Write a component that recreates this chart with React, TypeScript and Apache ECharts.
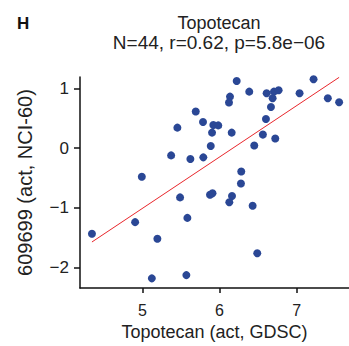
import React, { useEffect, useRef } from "react";
import * as echarts from "echarts";

const xValues = [
  5.692, 5.786, 5.453, 5.92, 5.984, 5.903, 5.886, 5.372, 5.622, 5.79, 4.992,
  6.223, 6.136, 6.123, 6.386, 6.611, 6.706, 6.767, 6.689, 6.667, 7.039, 7.22,
  7.405, 7.552, 6.158, 6.602, 6.563, 6.723, 6.451, 6.282, 5.488, 5.877, 5.909,
  4.905, 5.583, 4.345, 5.194, 5.122, 5.57, 6.278, 6.162, 6.127, 6.43, 6.49,
];
const yValues = [
  0.614, 0.438, 0.343, 0.388, 0.381, 0.26, 0.036, -0.121, -0.182, -0.154, -0.478,
  1.123, 0.862, 0.763, 0.945, 0.919, 0.945, 0.968, 0.836, 0.687, 0.919, 1.151,
  0.836, 0.769, 0.26, 0.488, 0.227, 0.161, 0.045, -0.39, -0.823, -0.779, -0.755,
  -1.237, -1.166, -1.431, -1.514, -2.177, -2.123, -0.59, -0.801, -0.905, -0.962, -1.758,
];
const fitX = [4.345, 7.552];
const fitY = [-1.569, 1.184];
const xTicks = [5, 6, 7];
const yTicks = [-2, -1, 0, 1];

const FONT = "Liberation Sans";
const TXT = "#222222";

export default function App() {
  const ref = useRef<HTMLDivElement>(null);
  useEffect(() => {
    if (!ref.current) return;
    const chart = echarts.init(ref.current, null, { renderer: "svg" });
    chart.setOption({
      animation: false,
      backgroundColor: "#ffffff",
      textStyle: { fontFamily: FONT },
      title: [
        {
          text: "H",
          left: 12,
          top: 10,
          textStyle: { fontFamily: FONT, fontSize: 17, fontWeight: "bold", color: "#111" },
        },
        {
          text: "Topotecan",
          subtext: "N=44, r=0.62, p=5.8e\u221206",
          left: 214,
          top: 9,
          textAlign: "center",
          itemGap: 1,
          textStyle: { fontFamily: FONT, fontSize: 18, fontWeight: "normal", color: TXT },
          subtextStyle: { fontFamily: FONT, fontSize: 19, color: TXT },
        },
      ],
      grid: { left: 80, top: 77, right: 0, bottom: 57, containLabel: false },
      xAxis: {
        type: "value",
        min: 4.19,
        max: 7.68,
        name: "Topotecan (act, GDSC)",
        nameLocation: "middle",
        nameGap: 34,
        nameTextStyle: { fontFamily: FONT, fontSize: 18, color: TXT },
        splitLine: { show: false },
        axisLine: { show: true, onZero: false, lineStyle: { color: "#111", width: 1.5 } },
        axisTick: { show: true, length: 5, customValues: xTicks, lineStyle: { color: "#111", width: 1.5 } },
        axisLabel: { customValues: xTicks, fontFamily: FONT, fontSize: 16, color: TXT, margin: 14 },
      },
      yAxis: {
        type: "value",
        min: -2.34,
        max: 1.19,
        name: "609699 (act, NCI-60)",
        nameLocation: "middle",
        nameGap: 45,
        nameTextStyle: { fontFamily: FONT, fontSize: 20, color: TXT },
        splitLine: { show: false },
        axisLine: { show: true, onZero: false, lineStyle: { color: "#111", width: 1.5 } },
        axisTick: { show: true, length: 6, customValues: yTicks, lineStyle: { color: "#111", width: 1.5 } },
        axisLabel: {
          customValues: yTicks,
          fontFamily: FONT,
          fontSize: 17,
          color: TXT,
          margin: 11,
          formatter: (v: number) => (v < 0 ? "\u2212" + Math.abs(v) : String(v)),
        },
      },
      series: [
        {
          type: "scatter",
          data: xValues.map((x, i) => [x, yValues[i]]),
          symbolSize: 8,
          itemStyle: { color: "#2A4795", opacity: 1 },
          z: 2,
        },
        {
          type: "line",
          data: fitX.map((x, i) => [x, fitY[i]]),
          symbol: "none",
          lineStyle: { color: "#E8262B", width: 1 },
          z: 3,
        },
      ],
    });
    return () => chart.dispose();
  }, []);
  return (
    <div
      ref={ref}
      style={{ position: "absolute", left: 0, top: 0, width: 349, height: 346 }}
    />
  );
}
